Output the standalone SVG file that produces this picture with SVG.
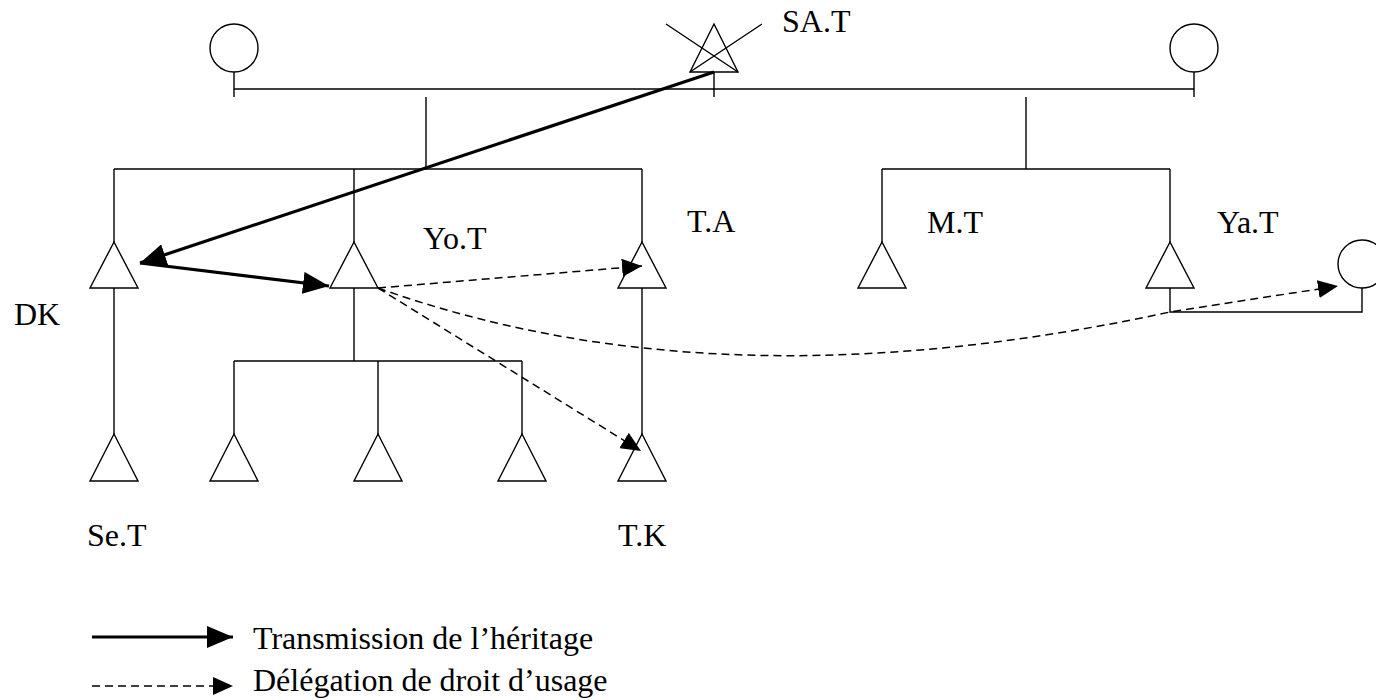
<svg xmlns="http://www.w3.org/2000/svg" width="1376" height="700" viewBox="0 0 1376 700">
<style>
.ln{fill:none;stroke:#000;stroke-width:1.4}
.sym{fill:#fff;stroke:#000;stroke-width:1.4}
.thick{fill:none;stroke:#000;stroke-width:3.2}
.dash{fill:none;stroke:#000;stroke-width:1.5;stroke-dasharray:8 5}
.lbl{font-family:"Liberation Serif","Times New Roman",serif;font-size:32px;fill:#000}
</style>
<defs>
<marker id="hThick" markerUnits="userSpaceOnUse" markerWidth="26" markerHeight="22" refX="26" refY="11" orient="auto"><path d="M0,0 L26,11 L0,22 z" fill="#000"/></marker>
<marker id="hDash" markerUnits="userSpaceOnUse" markerWidth="20" markerHeight="18" refX="20" refY="9" orient="auto"><path d="M0,0 L20,9 L0,18 z" fill="#000"/></marker>
</defs>
<rect width="1376" height="700" fill="#fff"/>
<g id="kinship-lines">
<path class="ln" d="M234,72 V97 M1194,72 V97 M714,72 V97 M234,89 H1194"/>
<path class="ln" d="M426,97 V169 M114,169 H642 M114,169 V242 M354,169 V242 M642,169 V242"/>
<path class="ln" d="M1026,97 V169 M882,169 H1170 M882,169 V242 M1170,169 V242"/>
<path class="ln" d="M114,288 V434 M642,288 V434 M354,288 V361 M234,361 H522 M234,361 V434 M378,361 V434 M522,361 V434"/>
<path class="ln" d="M1170,288 V312 H1362 V288"/>
</g>
<g id="n-mother-left"><circle class="sym" cx="234" cy="48" r="24"/></g>
<g id="n-mother-right"><circle class="sym" cx="1194" cy="48" r="24"/></g>
<g id="n-SAT"><path class="sym" d="M714,24 L738,72 L690,72 z"/><path class="ln" d="M666,24 L738,72 M762,24 L690,72"/><text class="lbl" x="782" y="32">SA.T</text></g>
<g id="n-DK"><path class="sym" d="M114,242 L138,288 L90,288 z"/><text class="lbl" x="14" y="325">DK</text></g>
<g id="n-YoT"><path class="sym" d="M354,242 L378,288 L330,288 z"/><text class="lbl" x="423" y="249">Yo.T</text></g>
<g id="n-TA"><path class="sym" d="M642,242 L666,288 L618,288 z"/><text class="lbl" x="687" y="232">T.A</text></g>
<g id="n-MT"><path class="sym" d="M882,242 L906,288 L858,288 z"/><text class="lbl" x="927" y="233">M.T</text></g>
<g id="n-YaT"><path class="sym" d="M1170,242 L1194,288 L1146,288 z"/><text class="lbl" x="1217" y="233">Ya.T</text></g>
<g id="n-YaT-wife"><circle class="sym" cx="1362" cy="264" r="24"/></g>
<g id="n-SeT"><path class="sym" d="M114,434 L138,481 L90,481 z"/><text class="lbl" x="87" y="546">Se.T</text></g>
<g id="n-c1"><path class="sym" d="M234,434 L258,481 L210,481 z"/></g>
<g id="n-c2"><path class="sym" d="M378,434 L402,481 L354,481 z"/></g>
<g id="n-c3"><path class="sym" d="M522,434 L546,481 L498,481 z"/></g>
<g id="n-TK"><path class="sym" d="M642,434 L666,481 L618,481 z"/><text class="lbl" x="618" y="546">T.K</text></g>
<g id="connectors">
<path class="thick" d="M714,72 L140,263" marker-end="url(#hThick)"/>
<path class="thick" d="M140,263 L329,286" marker-end="url(#hThick)"/>
<path class="dash" d="M378,288 L642,266" marker-end="url(#hDash)"/>
<path class="dash" d="M378,288 L641,451" marker-end="url(#hDash)"/>
<path class="dash" d="M378,288 C630,378 900,370 1170,312 L1338,286" marker-end="url(#hDash)"/>
</g>
<g id="legend">
<path class="thick" d="M92,637 L233,637" marker-end="url(#hThick)"/>
<path class="dash" d="M92,686 L233,686" marker-end="url(#hDash)"/>
<text class="lbl" x="253" y="649">Transmission de l’héritage</text>
<text class="lbl" x="253" y="691">Délégation de droit d’usage</text>
</g>
</svg>
